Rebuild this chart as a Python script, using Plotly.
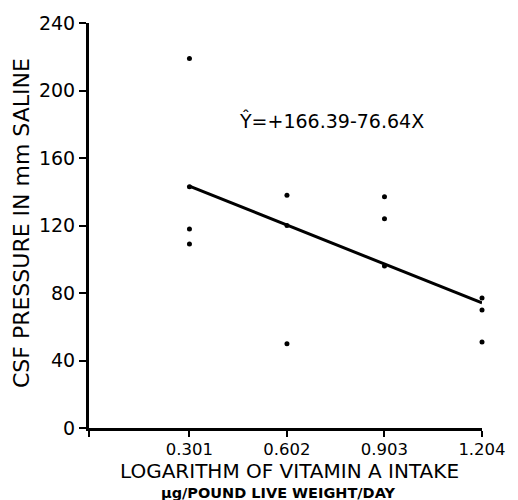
import plotly.graph_objects as go

# Data
x_points = [0.301, 0.301, 0.301, 0.301,
            0.602, 0.602, 0.602,
            0.903, 0.903, 0.903,
            1.204, 1.204, 1.204]
y_points = [219, 143, 118, 109,
            138, 120, 50,
            137, 124, 96,
            77, 70, 51]

INTERCEPT = 166.39
SLOPE = -76.64
line_x = [0.301, 1.204]
line_y = [INTERCEPT + SLOPE * v for v in line_x]

x_tickvals = [0.301, 0.602, 0.903, 1.204]
x_ticktext = ["0.301", "0.602", "0.903", "1.204"]
y_tickvals = [0, 40, 80, 120, 160, 200, 240]
y_ticktext = ["0", "40", "80", "120", "160", "200", "240"]

FONT = "DejaVu Sans"
XR = [-0.009, 1.204]

fig = go.Figure()
fig.add_trace(go.Scatter(x=line_x, y=line_y, mode="lines",
                         line=dict(color="black", width=3), showlegend=False,
                         cliponaxis=False))
fig.add_trace(go.Scatter(x=x_points, y=y_points, mode="markers",
                         marker=dict(color="black", size=5), showlegend=False,
                         cliponaxis=False))

fig.update_layout(
    width=518, height=500,
    margin=dict(l=89, r=27, t=20, b=72),
    paper_bgcolor="white", plot_bgcolor="white",
    font=dict(family=FONT, color="black"),
    xaxis=dict(range=XR, showgrid=False, zeroline=False,
               showline=True, linewidth=3, linecolor="black",
               ticks="outside", ticklen=6, tickwidth=2, tickcolor="black",
               tickvals=[XR[0]] + x_tickvals, ticktext=[""] + x_ticktext,
               ticklabelstandoff=-2,
               tickfont=dict(size=16.5, family=FONT)),
    yaxis=dict(range=[0, 240], showgrid=False, zeroline=False,
               showline=True, linewidth=3, linecolor="black",
               ticks="outside", ticklen=7, tickwidth=2, tickcolor="black",
               tickvals=y_tickvals, ticktext=y_ticktext,
               tickfont=dict(size=19, family=FONT)),
    annotations=[
        dict(text="Ŷ=+166.39-76.64X", x=0.447, y=182.4, xref="x", yref="y",
             xanchor="left", yanchor="middle", showarrow=False,
             font=dict(size=19, family=FONT)),
        dict(text="CSF PRESSURE IN mm SALINE", x=20, y=222, xref="paper", yref="paper",
             showarrow=False, textangle=-90, font=dict(size=22, family=FONT)),
        dict(text="LOGARITHM OF VITAMIN A INTAKE", x=294, y=471, showarrow=False,
             font=dict(size=20, family=FONT)),
        dict(text="<b>µg/POUND LIVE WEIGHT/DAY</b>", x=282, y=493, showarrow=False,
             font=dict(size=14.5, family=FONT)),
    ],
)

# convert pixel-positioned annotations to paper coords
W, H = 518, 500
L, R, T, B = 89, 27, 20, 72
pw, ph = W - L - R, H - T - B
anns = list(fig.layout.annotations)
for a in anns[1:]:
    px, py = a.x, a.y
    a.xref = "paper"; a.yref = "paper"
    a.x = (px - L) / pw
    a.y = (H - B - py) / ph
    a.xanchor = "center"; a.yanchor = "middle"
fig.layout.annotations = anns

fig.write_html("out.html")
